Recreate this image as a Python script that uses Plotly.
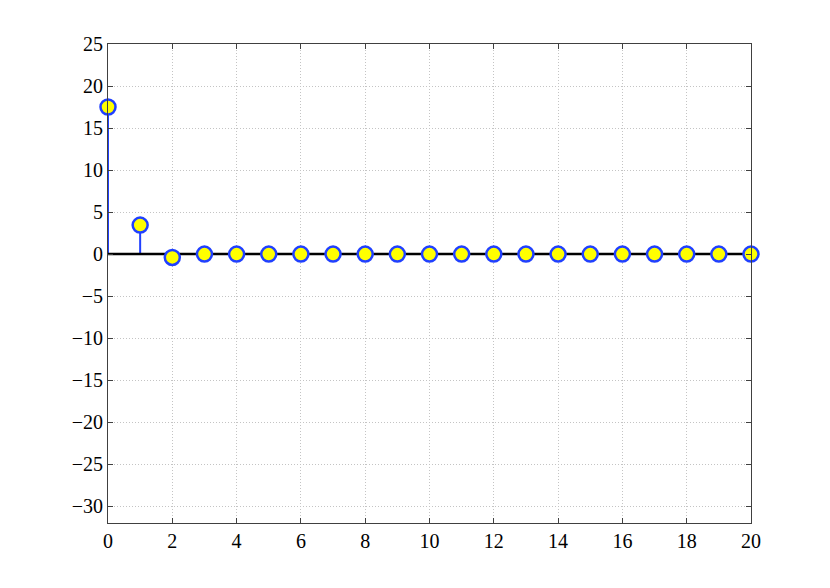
import plotly.graph_objects as go

n = list(range(0, 21))
values = [17.5, 3.45, -0.4, 0, 0, 0, 0, 0, 0, 0, 0, 0, 0, 0, 0, 0, 0, 0, 0, 0, 0]
xticks = list(range(0, 21, 2))
yticks = list(range(-30, 26, 5))

stem_x, stem_y = [], []
for xi, yi in zip(n, values):
    stem_x += [xi, xi, None]
    stem_y += [0, yi, None]

fig = go.Figure()
fig.add_trace(go.Scatter(x=stem_x, y=stem_y, mode="lines",
                         line=dict(color="#2040ff", width=2), showlegend=False, hoverinfo="skip"))
fig.add_trace(go.Scatter(x=[0, 20], y=[0, 0], mode="lines",
                         line=dict(color="black", width=2.5), showlegend=False, hoverinfo="skip"))
fig.add_trace(go.Scatter(x=n, y=values, mode="markers",
                         marker=dict(size=15, color="#ffff00", line=dict(color="#2040ff", width=2.5)),
                         showlegend=False, cliponaxis=False))

axis_common = dict(showline=True, linecolor="#404040", linewidth=1, mirror="ticks",
                   ticks="inside", ticklen=5, tickcolor="#404040",
                   showgrid=True, gridcolor="#c4c4c4", griddash="1px,2px", gridwidth=1,
                   zeroline=False, tickfont=dict(family="Liberation Serif", size=20, color="black"))

fig.update_xaxes(range=[0, 20], tickvals=xticks, **axis_common)
fig.update_yaxes(range=[-32, 25], tickvals=yticks,
                 ticktext=[str(v).replace("-", "\u2212") for v in yticks], **axis_common)

fig.update_layout(width=830, height=588, plot_bgcolor="white", paper_bgcolor="white",
                  margin=dict(l=100, r=87, t=36, b=73, autoexpand=False))
fig.write_html("out.html")
